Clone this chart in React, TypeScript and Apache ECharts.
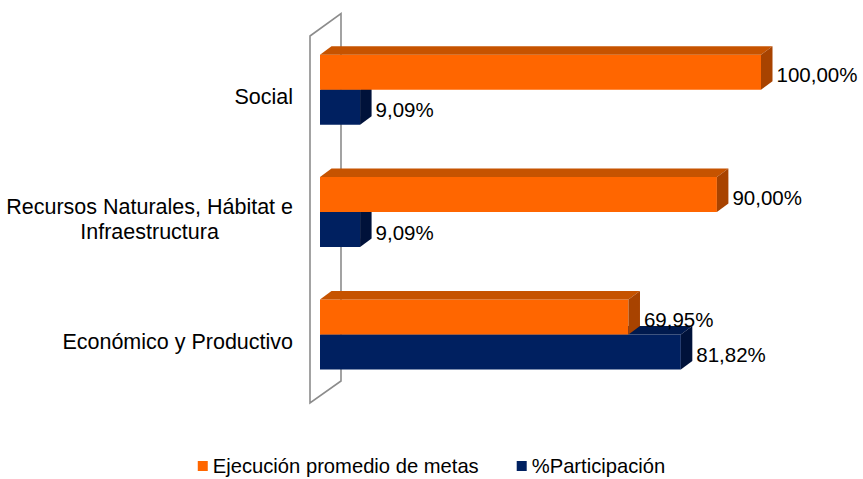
import React, { useEffect, useRef } from "react";
import * as echarts from "echarts";

const categories = [
  "Económico y Productivo",
  "Recursos Naturales, Hábitat e\nInfraestructura",
  "Social",
];
const ejecucion = [69.95, 90.0, 100.0];
const participacion = [81.82, 9.09, 9.09];
const seriesNames = ["Ejecución promedio de metas", "%Participación"];

const FONT = '"Liberation Sans", Arial, sans-serif';

const fmt = (v: number) => v.toFixed(2).replace(".", ",") + "%";

function makeBarRender(upper: boolean, front: string, top: string, side: string) {
  return (params: any, api: any) => {
    const val = api.value(0);
    const cat = api.value(1);
    const p = api.coord([val, cat]);
    const p0 = api.coord([0, cat]);
    const bandH = api.size([0, 1])[1];
    const barH = bandH * 0.286;
    const fx = 10, fy = -7.4;
    const dx = 11.5, dy = -8.5;
    const left = p0[0] + fx;
    const right = p[0] + fx;
    const t = upper ? p[1] + fy - barH : p[1] + fy;
    const b = t + barH;
    return {
      type: "group",
      children: [
        {
          type: "rect",
          shape: { x: left, y: t, width: right - left, height: barH },
          style: { fill: front },
        },
        {
          type: "polygon",
          shape: { points: [[left, t], [left + dx, t + dy], [right + dx, t + dy], [right, t]] },
          style: { fill: top },
        },
        {
          type: "polygon",
          shape: { points: [[right, t], [right + dx, t + dy], [right + dx, b + dy], [right, b]] },
          style: { fill: side },
        },
        {
          type: "text",
          z2: 10,
          style: {
            text: fmt(val),
            x: right + dx + 4,
            y: t + barH / 2 + 2.5,
            verticalAlign: "middle",
            align: "left",
            fill: "#000",
            font: `20.5px ${FONT}`,
          },
        },
      ],
    };
  };
}

export default function App() {
  const ref = useRef<HTMLDivElement>(null);
  useEffect(() => {
    if (!ref.current) return;
    const chart = echarts.init(ref.current, undefined, { renderer: "svg" });
    chart.setOption({
      animation: false,
      color: ["#FF6600", "#002060"],
      grid: { left: 310, top: 36, width: 441, height: 367, containLabel: false },
      xAxis: {
        type: "value",
        min: 0,
        max: 100,
        show: false,
      },
      yAxis: {
        type: "category",
        data: categories,
        axisLine: { show: false },
        axisTick: { show: false },
        splitLine: { show: false },
        axisLabel: {
          margin: 17,
          fontSize: 21.5,
          color: "#000",
          fontFamily: FONT,
          formatter: (v: string) =>
            v.split("\n").map((s) => `{a|${s}}`).join("\n"),
          rich: {
            a: { align: "center", fontSize: 21.5, lineHeight: 25, color: "#000", fontFamily: FONT },
          },
        },
      },
      legend: {
        data: seriesNames,
        top: 451,
        left: "center",
        icon: "rect",
        itemWidth: 10,
        itemHeight: 10,
        itemGap: 38,
        textStyle: { fontSize: 20.2, color: "#000", fontFamily: FONT },
      },
      series: [
        {
          type: "custom",
          name: "wall",
          z: 1,
          silent: true,
          data: [[0, 0]],
          renderItem: (params: any) => {
            const cs = params.coordSys;
            const x = cs.x, y = cs.y, h = cs.height;
            return {
              type: "polygon",
              shape: {
                points: [
                  [x, y],
                  [x + 31, y - 22.5],
                  [x + 31, y + h - 22],
                  [x, y + h],
                ],
              },
              style: { fill: "none", stroke: "#8C8C8C", lineWidth: 1.6 },
            };
          },
        },
        {
          type: "custom",
          name: seriesNames[1],
          z: 2,
          itemStyle: { color: "#002060" },
          data: participacion.map((v, i) => [v, i]),
          encode: { x: 0, y: 1 },
          renderItem: makeBarRender(false, "#002060", "#001A4E", "#00123A"),
        },
        {
          type: "custom",
          name: seriesNames[0],
          z: 3,
          itemStyle: { color: "#FF6600" },
          data: ejecucion.map((v, i) => [v, i]),
          encode: { x: 0, y: 1 },
          renderItem: makeBarRender(true, "#FF6600", "#C65300", "#A84300"),
        },
      ],
    });
    return () => chart.dispose();
  }, []);
  return (
    <div
      ref={ref}
      style={{ position: "fixed", left: 0, top: 0, width: 863, height: 479, background: "#fff" }}
    />
  );
}
